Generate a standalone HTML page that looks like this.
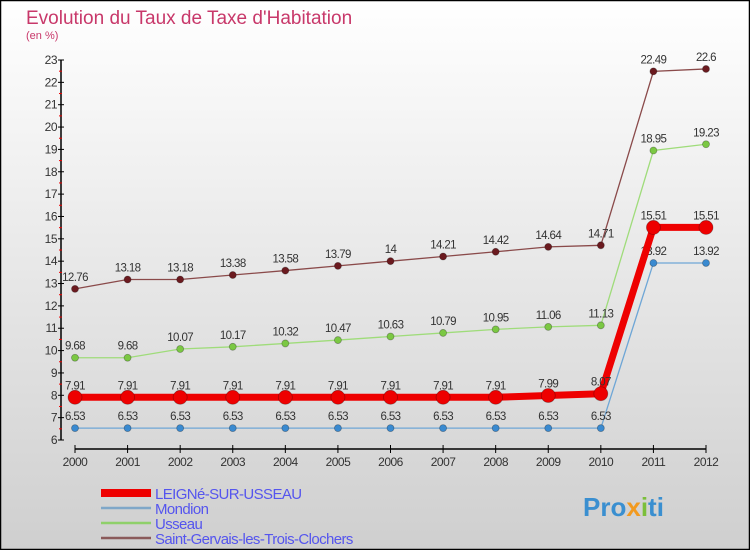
<!DOCTYPE html>
<html><head><meta charset="utf-8"><style>
html,body{margin:0;padding:0;}
body{width:750px;height:550px;overflow:hidden;font-family:"Liberation Sans",sans-serif;}
svg{display:block}
</style></head><body>
<svg id="chart" width="750" height="550">
<defs><linearGradient id="bg" x1="0" y1="0" x2="0" y2="1"><stop offset="0" stop-color="#ffffff"/><stop offset="1" stop-color="#cfcfcf"/></linearGradient></defs>
<rect x="0.5" y="0.5" width="749" height="549" fill="url(#bg)" stroke="#000" stroke-width="1.5"/>
<text x="26" y="24" font-size="19" fill="#c8386a">Evolution du Taux de Taxe d'Habitation</text>
<text x="26" y="39" font-size="11" fill="#c8386a">(en %)</text>
<g id="axes"></g>
<g id="series"></g>
<g id="legend"></g>
<text x="583" y="516" font-size="26" font-weight="bold" fill="#3a8fd0">Pro<tspan fill="#f29a1f">x</tspan><tspan fill="#7bbf3a">i</tspan>ti</text>
</svg>
<script>
const years=[2000,2001,2002,2003,2004,2005,2006,2007,2008,2009,2010,2011,2012];
const yTicks=[6,7,8,9,10,11,12,13,14,15,16,17,18,19,20,21,22,23];
const seriesNames=["LEIGNé-SUR-USSEAU","Mondion","Usseau","Saint-Gervais-les-Trois-Clochers"];
const leigne=[7.91,7.91,7.91,7.91,7.91,7.91,7.91,7.91,7.91,7.99,8.07,15.51,15.51];
const mondion=[6.53,6.53,6.53,6.53,6.53,6.53,6.53,6.53,6.53,6.53,6.53,13.92,13.92];
const usseau=[9.68,9.68,10.07,10.17,10.32,10.47,10.63,10.79,10.95,11.06,11.13,18.95,19.23];
const stGervais=[12.76,13.18,13.18,13.38,13.58,13.79,14,14.21,14.42,14.64,14.71,22.49,22.6];
const NS="http://www.w3.org/2000/svg";
function X(i){return 75+i*(706-75)/(years.length-1);}
function Y(v){return 440-(v-6)*(440-60)/17;}
function mk(t,a,p){const e=document.createElementNS(NS,t);for(const k in a)e.setAttribute(k,a[k]);p.appendChild(e);return e;}
const ax=document.getElementById('axes');
const yl=mk('line',{x1:61,y1:Y(23),x2:61,y2:Y(6),stroke:'#000','stroke-width':1.5},ax);


yTicks.forEach(v=>{
 mk('line',{x1:58,y1:Y(v),x2:64,y2:Y(v),stroke:'#000'},ax);
 if(v<23) mk('line',{x1:59,y1:Y(v+0.5),x2:62,y2:Y(v+0.5),stroke:'#e00'},ax);
 const t=mk('text',{x:57,y:Y(v)+4,'font-size':12,fill:'#333','text-anchor':'end','letter-spacing':'-0.5'},ax);t.textContent=v;
 
 
});
const xl=mk('line',{x1:X(0),y1:449,x2:X(years.length-1),y2:449,stroke:'#000','stroke-width':1.5},ax);


years.forEach((y,i)=>{
 mk('line',{x1:X(i),y1:445,x2:X(i),y2:453,stroke:'#000'},ax);
 const t=mk('text',{x:X(i),y:466,'font-size':12,fill:'#333','text-anchor':'middle','letter-spacing':'-0.5'},ax);t.textContent=y;
 
 
});
const sg=document.getElementById('series');
const defs=[
 {d:stGervais,c:'#8a4a4a',dot:'#6b1a1f',w:1.3,r:3.5,n:'st-gervais'},
 {d:usseau,c:'#9fdc7a',dot:'#7bc843',w:1.3,r:3.5,n:'usseau'},
 {d:mondion,c:'#6ea6d6',dot:'#3a8ad0',w:1.3,r:3.5,n:'mondion'},
 {d:leigne,c:'#ee0000',dot:'#ee0000',w:7,r:7,n:'leigne'}];
defs.forEach(s=>{
 const g=mk('g',{},sg);
 
 
 const pl=mk('polyline',{points:s.d.map((v,i)=>X(i)+','+Y(v)).join(' '),fill:'none',stroke:s.c,'stroke-width':s.w},g);
 
 
 s.d.forEach((v,i)=>{
  const c=mk('circle',{cx:X(i),cy:Y(v),r:s.r,fill:s.dot,stroke:'rgba(0,0,0,0.3)','stroke-width':0.8},g);
  
  
  const t=mk('text',{x:X(i),y:Y(v)-8,'font-size':11.5,fill:'#333','text-anchor':'middle','letter-spacing':'-0.6'},g);
  t.textContent=v;
  
  
 });
});
const lg=document.getElementById('legend');
const lstyles=[['#ee0000',8],['#7fa7c8',2.5],['#8fd06a',2.5],['#8a5a5a',2.5]];
seriesNames.forEach((n,i)=>{
 const y=493+i*15;
 const l=mk('line',{x1:101,y1:y,x2:151,y2:y,stroke:lstyles[i][0],'stroke-width':lstyles[i][1]},lg);
 
 
 const t=mk('text',{x:155,y:y+6,'font-size':15,fill:'#5555ee','letter-spacing':'-0.6'},lg);t.textContent=n;
 
 
});
</script>
</body></html>
